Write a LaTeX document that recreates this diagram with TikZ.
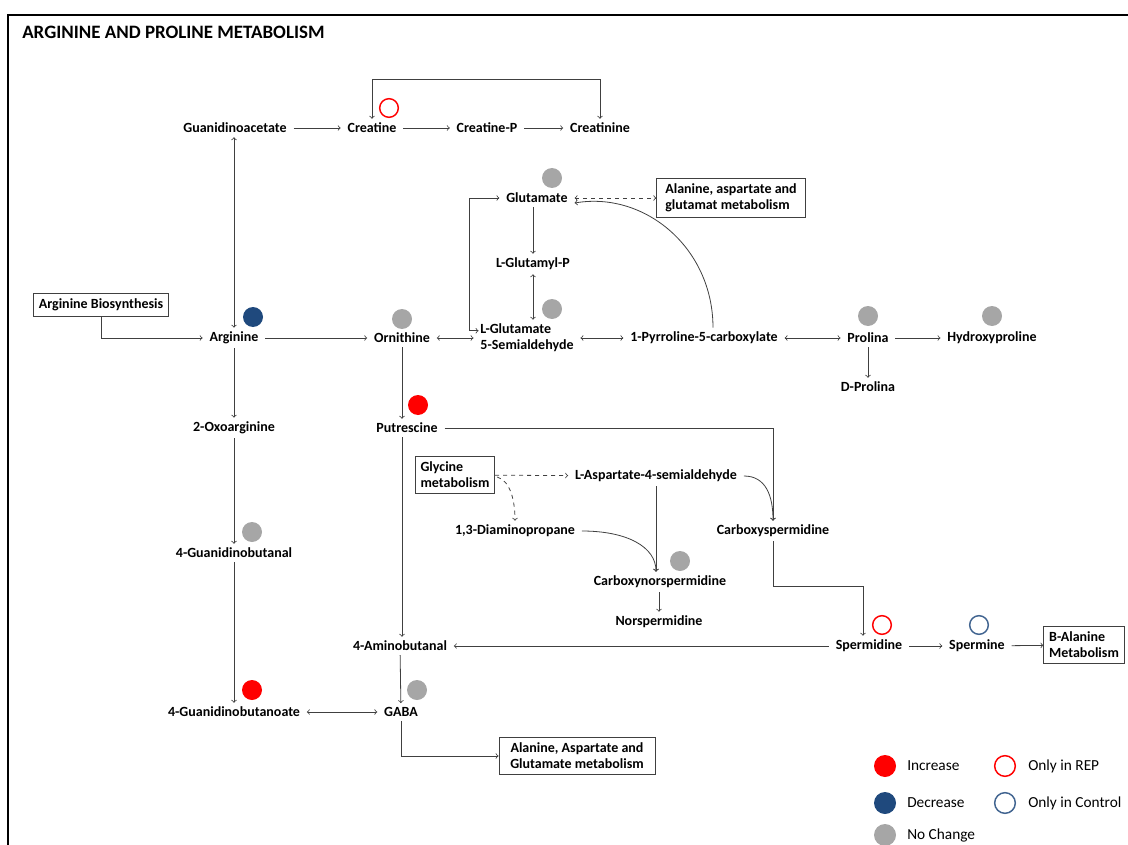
\documentclass[tikz,border=0pt]{standalone}
\usepackage{fontspec}
\setmainfont{Carlito}
\usetikzlibrary{calc}
\definecolor{pathred}{RGB}{255, 0, 0}
\definecolor{pathblue}{RGB}{31, 73, 125}
\definecolor{pathgray}{RGB}{166, 166, 166}
\definecolor{pathline}{RGB}{64, 64, 64}

\tikzset{
  met/.style={font=\bfseries\fontsize{10.5}{12}\selectfont, inner xsep=5pt, inner ysep=3pt},
  mapbox/.style={draw=pathline, line width=0.6pt, font=\bfseries\fontsize{10.5}{12}\selectfont, inner sep=4pt},
  conn/.style={draw=pathline, line width=0.6pt, ->},
  incdot/.style={circle, fill=pathred, minimum size=15pt, inner sep=0pt},
  decdot/.style={circle, fill=pathblue, minimum size=15pt, inner sep=0pt},
  ncdot/.style={circle, fill=pathgray, minimum size=15pt, inner sep=0pt},
  repring/.style={circle, draw=pathred, line width=1.1pt, minimum size=14pt, inner sep=0pt},
  ctlring/.style={circle, draw=pathblue!85, line width=1.1pt, minimum size=14pt, inner sep=0pt},
  legtext/.style={anchor=west, font=\fontsize{11.5}{13}\selectfont, inner sep=0pt},
}

\begin{document}
\begin{tikzpicture}[x=0.75pt, y=-0.75pt]
    \useasboundingbox (0,0) rectangle (1128,845);

    % Outer frame and title
    \draw[line width=1.6pt] (8,845) -- (8,15) -- (1128,15);
    \node[anchor=west, inner sep=0pt, font=\bfseries\fontsize{14.2}{16}\selectfont] (title) at (22,32) {ARGININE AND PROLINE METABOLISM};

    % Creatine row
    \node[met] (guan) at (235,128) {Guanidinoacetate};
    \node[met] (crea) at (372,128) {Creatine};
    \node[met] (crep) at (487,128) {Creatine-P};
    \node[met] (crtn) at (600,128) {Creatinine};
    \coordinate (loop) at (0,79);

    % Glutamate branch
    \node[met] (glu) at (537,198) {Glutamate};
    \node[mapbox, inner xsep=6.5pt, align=left] (ala1) at (731,198) {Alanine, aspartate and\\glutamat metabolism};
    \node[met] (glup) at (533,264) {L-Glutamyl-P};
    \node[met, align=left] (lgsa) at (527,338) {L-Glutamate\\5-Semialdehyde};

    % Main row
    \node[mapbox] (abio) at (101,305) {Arginine Biosynthesis};
    \node[met] (arg) at (234,338) {Arginine};
    \node[met] (orn) at (402,338) {Ornithine};
    \node[met] (pyr) at (704,338) {1-Pyrroline-5-carboxylate};
    \node[met] (pro) at (868,338) {Prolina};
    \node[met] (hyp) at (992,338) {Hydroxyproline};
    \node[met] (dpro) at (868,387) {D-Prolina};

    % Left column
    \node[met] (oxo) at (234,428) {2-Oxoarginine};
    \node[met] (gbal) at (234,553) {4-Guanidinobutanal};
    \node[met] (gbat) at (234,712) {4-Guanidinobutanoate};

    % Polyamines
    \node[met] (put) at (407,428) {Putrescine};
    \node[mapbox, align=left] (gly) at (455,475) {Glycine\\metabolism};
    \node[met] (asp) at (656,476) {L-Aspartate-4-semialdehyde};
    \node[met] (dap) at (515,531) {1,3-Diaminopropane};
    \node[met] (csp) at (773,531) {Carboxyspermidine};
    \node[met] (cnsp) at (660,582) {Carboxynorspermidine};
    \node[met] (nsp) at (659,622) {Norspermidine};
    \node[met] (amb) at (400,646) {4-Aminobutanal};
    \node[met] (spd) at (869,646) {Spermidine};
    \node[met] (spm) at (977,646) {Spermine};
    \node[mapbox, align=left] (bala) at (1084,645) {B-Alanine\\Metabolism};
    \node[met] (gaba) at (401,712) {GABA};
    \node[mapbox, inner xsep=8.5pt, align=center] (ala2) at (577,756) {Alanine, Aspartate and\\Glutamate metabolism};

    % Creatine connectors
    \draw[conn] (guan) -- (crea);
    \draw[conn] (crea) -- (crep);
    \draw[conn] (crep) -- (crtn);
    \draw[conn, <->] (crea.north) -- (crea.north |- loop) -| (crtn.north);
    \draw[conn, <->] (arg.north |- guan.south) -- (arg.north);

    % Arginine / proline connectors
    \draw[conn] (abio.south) |- (arg.west);
    \draw[conn] (arg) -- (orn);
    \draw[conn, <->] (orn) -- (lgsa);
    \draw[conn, <->] (lgsa) -- (pyr);
    \draw[conn, <->] (pyr) -- (pro);
    \draw[conn] (pro) -- (hyp);
    \draw[conn] (pro) -- (dpro);
    \draw[conn] (glup.north |- glu.south) -- (glup.north);
    \draw[conn, <->] (glup.south) -- (glup.south |- lgsa.north);
    \draw[conn, <->, dashed] (glu) -- (ala1);
    \draw[conn, <->] ($(lgsa.north west)+(5,11)$) -- ++(-9,0) |- (glu.west);
    \draw[conn] ($(pyr.north)+(9,0)$) .. controls +(0,-80) and +(70,-12) .. ($(glu.east)+(0,5)$);

    % Arginine column
    \draw[conn] (arg) -- (oxo);
    \draw[conn] (oxo) -- (gbal);
    \draw[conn] (gbal) -- (gbat);
    \draw[conn, <->] (gbat) -- (gaba);

    % Polyamine connectors
    \draw[conn] (orn.south) -- (orn.south |- put.north);
    \draw[conn] (orn.south |- put.south) -- (orn.south |- amb.north);
    \draw[conn] (amb) -- (gaba);
    \draw[conn] (gaba.south) |- (ala2.west);
    \draw[conn, dashed] (gly) -- (asp);
    \draw[conn, dashed] ($(gly.east)+(2,2)$) .. controls +(14,4) and +(0,-18) .. (dap.north);
    \draw[conn] (asp.south) -- (asp.south |- cnsp.north);
    \draw[conn] (dap.east) .. controls +(45,0) and +(0,-25) .. (asp.south |- cnsp.north);
    \draw[conn] (asp.east) .. controls +(22,0) and +(0,-25) .. (csp.north);
    \draw[conn] (put.east) -| (csp.north);
    \draw[conn] (nsp.north |- cnsp.south) -- (nsp.north);
    \draw[conn] (csp.south) -- ++(0,45) -| ($(spd.north)+(-6,0)$);
    \draw[conn] (spd) -- (amb);
    \draw[conn] (spd) -- (spm);
    \draw[conn] (spm) -- (bala);

    % Status markers
    \node[repring] (crea-s) at (389,108) {};
    \node[ncdot] (glu-s) at (552,178) {};
    \node[ncdot] (lgsa-s) at (552,309) {};
    \node[decdot] (arg-s) at (253,317) {};
    \node[ncdot] (orn-s) at (402,319) {};
    \node[ncdot] (pro-s) at (868,316) {};
    \node[ncdot] (hyp-s) at (992,316) {};
    \node[incdot] (put-s) at (418,405) {};
    \node[ncdot] (gbal-s) at (252,532) {};
    \node[ncdot] (cnsp-s) at (680,561) {};
    \node[repring] (spd-s) at (882,625) {};
    \node[ctlring] (spm-s) at (979,625) {};
    \node[incdot] (gbat-s) at (252,690) {};
    \node[ncdot] (gaba-s) at (417,690) {};

    % Legend
    \node[incdot, minimum size=16.5pt] (leg-inc) at (885,766) {};
    \node[legtext] (leg-inc-t) at (907,766) {Increase};
    \node[decdot, minimum size=16.5pt] (leg-dec) at (885,803) {};
    \node[legtext] (leg-dec-t) at (907,803) {Decrease};
    \node[ncdot, minimum size=16.5pt] (leg-nc) at (885,835) {};
    \node[legtext] (leg-nc-t) at (907,835) {No Change};
    \node[repring, minimum size=15.5pt] (leg-rep) at (1005,766) {};
    \node[legtext] (leg-rep-t) at (1028,766) {Only in REP};
    \node[ctlring, minimum size=15.5pt] (leg-ctl) at (1005,803) {};
    \node[legtext] (leg-ctl-t) at (1028,803) {Only in Control};
\end{tikzpicture}
\end{document}
